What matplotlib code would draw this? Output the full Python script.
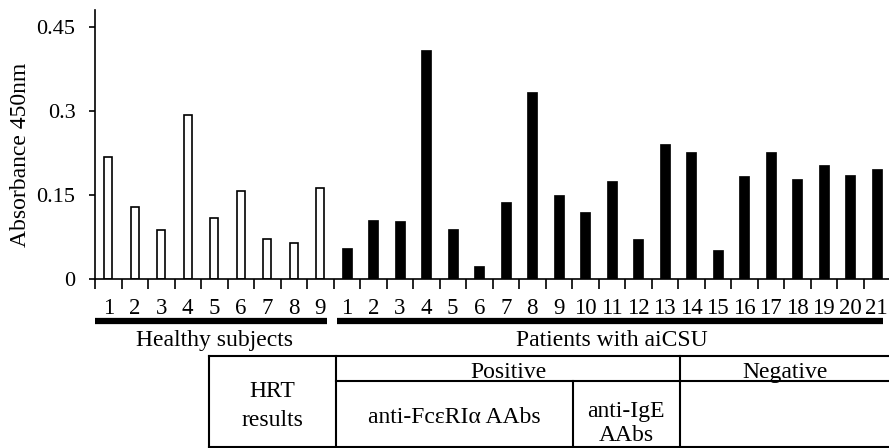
import numpy as np
import matplotlib
matplotlib.use("Agg")
import matplotlib.pyplot as plt
from matplotlib.lines import Line2D
from matplotlib.transforms import blended_transform_factory

plt.rcParams['font.family'] = ['Liberation Serif', 'DejaVu Serif']

# Absorbance values
healthy = [0.218, 0.128, 0.087, 0.293, 0.109, 0.157, 0.072, 0.065, 0.163]
patients = [0.056, 0.106, 0.103, 0.408, 0.089, 0.024, 0.138, 0.333, 0.150,
            0.120, 0.175, 0.071, 0.240, 0.226, 0.052, 0.184, 0.227, 0.178,
            0.203, 0.186, 0.197]
yticks = [0, 0.15, 0.3, 0.45]
ytick_labels = ['0', '0.15', '0.3', '0.45']
group_names = ['Healthy subjects', 'Patients with aiCSU']

n_h = len(healthy)
n_p = len(patients)
n = n_h + n_p
x_h = np.arange(n_h)
x_p = np.arange(n_h, n)
labels = [str(i + 1) for i in range(n_h)] + [str(i + 1) for i in range(n_p)]

W, H = 889, 448
fig = plt.figure(figsize=(W / 100, H / 100), dpi=100)
ax = fig.add_axes([95 / W, 1 - 279 / H, 795 / W, 269 / H])

ax.bar(x_h, healthy, width=0.3, color='white', edgecolor='black', linewidth=1.2)
ax.bar(x_p, patients, width=0.36, color='black', edgecolor='black', linewidth=0.5)

ax.set_xlim(-0.5, n - 0.5)
ax.set_ylim(0, 0.48)
for s in ['top', 'right']:
    ax.spines[s].set_visible(False)
for s in ['left', 'bottom']:
    ax.spines[s].set_linewidth(1.2)

ax.set_yticks(yticks, ytick_labels)
ax.tick_params(axis='y', direction='out', length=4, width=1.2, pad=10, labelsize=16)
# boundary ticks without labels, labels on centres
ax.set_xticks(np.arange(n) - 0.5, [''] * n)
ax.tick_params(axis='x', which='major', direction='out', length=7, width=1.2)
ax.set_xticks(np.arange(n), labels, minor=True)
ax.tick_params(axis='x', which='minor', length=0, pad=14, labelsize=16.5)

ax.set_ylabel('Absorbance 450nm', fontsize=17)
ax.yaxis.set_label_coords(-0.081, 0.46)

# group bars and names below the axis
tr = blended_transform_factory(ax.transData, fig.transFigure)
yb = 1 - 321 / H
fig.add_artist(Line2D([-0.5, n_h - 0.75], [yb, yb], transform=tr, color='black',
                      lw=4.5, solid_capstyle='butt'))
fig.add_artist(Line2D([n_h - 0.37, n - 0.75], [yb, yb], transform=tr, color='black',
                      lw=4.5, solid_capstyle='butt'))
fig.text((n_h - 1) / 2, 1 - 346 / H, group_names[0], transform=tr,
         ha='center', va='baseline', fontsize=17)
fig.text((n_h + n - 1) / 2, 1 - 346 / H, group_names[1], transform=tr,
         ha='center', va='baseline', fontsize=17)

# HRT results table
def hline(y, x0, x1):
    fig.add_artist(Line2D([x0 / W, x1 / W], [1 - y / H, 1 - y / H], color='black', lw=1.5))

def vline(x, y0, y1):
    fig.add_artist(Line2D([x / W, x / W], [1 - y0 / H, 1 - y1 / H], color='black', lw=1.5))

hline(356, 209, 892)
hline(381, 336, 892)
hline(446.5, 209, 892)
vline(209, 356, 446.5)
vline(336, 356, 446.5)
vline(573, 381, 446.5)
vline(680, 356, 446.5)

def cell_text(x, y, s):
    fig.text(x / W, 1 - y / H, s, ha='center', va='baseline', fontsize=17)

cell_text(272, 397, 'HRT')
cell_text(272, 426, 'results')
cell_text(508, 378, 'Positive')
cell_text(785, 378, 'Negative')
cell_text(454, 423, 'anti-FcεRIα AAbs')
cell_text(626, 417, 'anti-IgE')
cell_text(626, 441, 'AAbs')

fig.savefig('out.png', dpi=100)
